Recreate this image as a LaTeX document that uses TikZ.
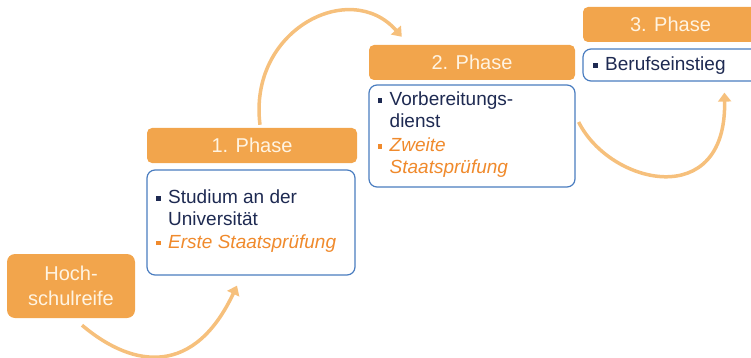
\documentclass[tikz,border=0pt]{standalone}
\usepackage{fontspec}
\setmainfont{Liberation Sans}
\usetikzlibrary{arrows.meta,calc}
\definecolor{boxorange}{HTML}{F2A54C}
\definecolor{arrorange}{HTML}{F6C07C}
\definecolor{frameblue}{HTML}{4A7DC0}
\definecolor{navy}{HTML}{1E2A52}
\definecolor{txtorange}{HTML}{F08A2C}
\definecolor{cream}{HTML}{FFF4E2}
\newcommand\sqbul[1]{\makebox[12pt][l]{\textcolor{#1}{\rule[3pt]{4.5pt}{4.5pt}}}}
\begin{document}
\begin{tikzpicture}[x=1pt,y=-1pt,
  header/.style={fill=boxorange, rounded corners=5pt, minimum height=35pt, text=cream,
    font=\fontsize{20}{24}\selectfont, inner sep=0pt},
  startbox/.style={fill=boxorange, rounded corners=8pt, minimum width=128pt, minimum height=64pt,
    text=cream, align=center, font=\fontsize{20}{25}\selectfont, inner sep=0pt},
  contentbox/.style={draw=frameblue, line width=1.2pt, fill=white, rounded corners=8pt, inner sep=0pt},
  itemtext/.style={anchor=base west, align=left, inner sep=0pt, text=navy,
    font=\fontsize{19}{21.5}\selectfont},
  flow/.style={draw=arrorange, line width=3.5pt, -{Triangle[length=9pt,width=13pt]}}]
\useasboundingbox (0,0) rectangle (751,358);
\clip (0,0) rectangle (751,358);

% start box
\node[startbox] (hs) at (71,286) {Hoch-\\schulreife};

% phase 1
\node[header, minimum width=210pt] (h1) at (252,145.5) {1. Phase};
\node[contentbox, minimum width=208pt, minimum height=105pt] (c1) at (251,222.5) {};
\node[itemtext] (t1) at (156,248) {\sqbul{navy}Studium an der\\\hspace*{12pt}Universität\\[1.5pt]
  \sqbul{txtorange}\textcolor{txtorange}{\itshape Erste Staatsprüfung}};

% phase 2
\node[header, minimum width=206pt] (h2) at (472,62.5) {2. Phase};
\node[contentbox, minimum width=206pt, minimum height=102pt] (c2) at (472,136) {};
\node[itemtext] (t2) at (377.5,173) {\sqbul{navy}Vorbereitungs-\\\hspace*{12pt}dienst\\[2.5pt]
  \sqbul{txtorange}\textcolor{txtorange}{\itshape Zweite}\\\hspace*{12pt}\textcolor{txtorange}{\itshape Staatsprüfung}};

% phase 3
\node[header, minimum width=175pt] (h3) at (670.5,24.5) {3. Phase};
\node[contentbox, minimum width=177pt, minimum height=32pt] (c3) at (671.5,65) {};
\node[itemtext] (t3) at (593,71) {\sqbul{navy}Berufseinstieg};

% connectors
\draw[flow] ($(hs.south)+(11,7)$) .. controls (135,370) and (195,375) .. ($(c1.south)+(-14,10)$);
\draw[flow] ($(h1.north)+(8,-3)$) .. controls (248,30) and (350,-22) .. ($(h2.north west)+(33,-8)$);
\draw[flow] ($(c2.east)+(3,-14)$) .. controls (610,185) and (727,212) .. ($(c3.south west)+(142,11)$);
\end{tikzpicture}
\end{document}
